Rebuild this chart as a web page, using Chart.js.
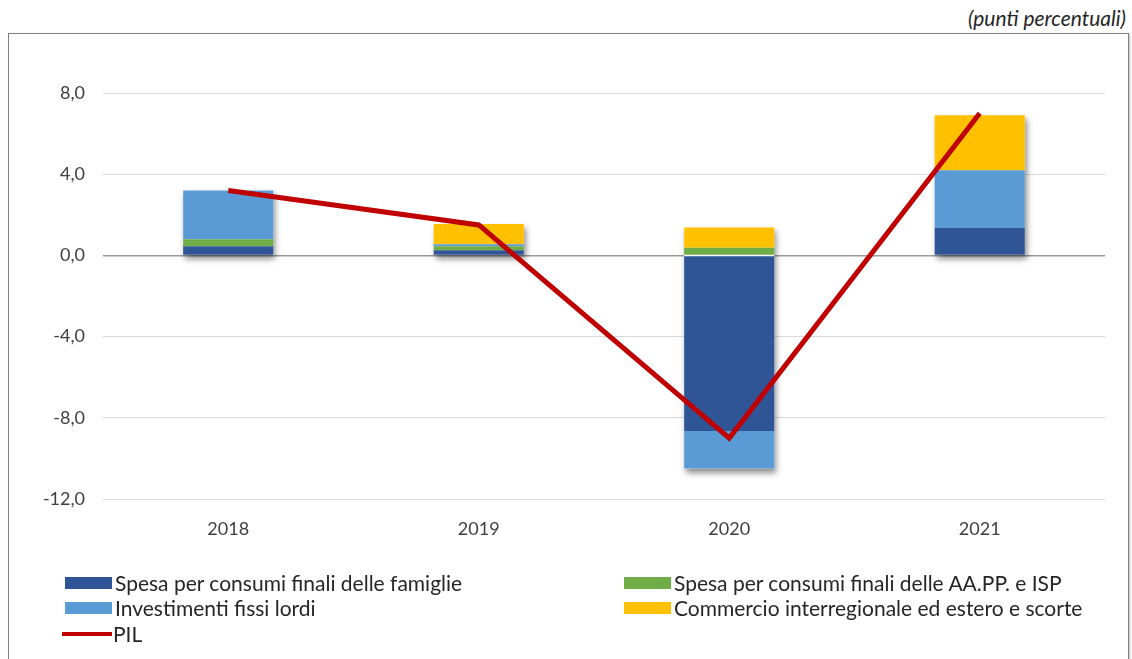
<!DOCTYPE html>
<html>
<head>
<meta charset="utf-8">
<script src="https://cdn.jsdelivr.net/npm/chart.js@4/dist/chart.umd.min.js"></script>
<style>
  body { margin: 0; background: #fff; font-family: Lato, "Open Sans", sans-serif; }
  #wrap { position: relative; width: 1132px; height: 659px; overflow: hidden; }
  #box { position: absolute; left: 8px; top: 33px; width: 1119px; height: 640px; border: 1px solid #808080; box-shadow: 1px 1px 2px rgba(0,0,0,0.25); }
  #unit { position: absolute; right: 6px; top: 5px; font-style: italic; font-size: 21px; color: #262626; }
  canvas { position: absolute; left: 0; top: 0; }
  .leg { position: absolute; font-size: 21px; color: #262626; white-space: nowrap; line-height: 24px; }
  .sw { position: absolute; }
</style>
</head>
<body>
<div id="wrap">
  <div id="box"></div>
  <div id="unit">(punti percentuali)</div>
  <canvas id="c" width="1132" height="659"></canvas>
  <div id="legend"></div>
</div>
<script>
const anni = ["2018", "2019", "2020", "2021"];
const famiglie = [0.45, 0.25, -8.65, 1.35];
const aaPP = [0.35, 0.2, 0.38, 0];
const investimenti = [2.4, 0.1, -1.85, 2.85];
const commercio = [0, 1.0, 1.0, 2.7];
const pil = [3.2, 1.5, -9.0, 7.0];

const nomi = [
  "Spesa per consumi finali delle famiglie",
  "Spesa per consumi finali delle AA.PP. e ISP",
  "Investimenti fissi lordi",
  "Commercio interregionale ed estero e scorte",
  "PIL"
];
const colori = ["#2f5597", "#70ad47", "#5b9bd5", "#ffc000", "#c00000"];

// ombra sotto le colonne, calcolata dalle barre disegnate dalla libreria
const ombra = {
  id: "ombra",
  beforeDatasetsDraw(chart) {
    const ctx = chart.ctx;
    const metas = chart.getSortedVisibleDatasetMetas().filter(m => m.type === "bar");
    anni.forEach((_, i) => {
      let top = Infinity, bottom = -Infinity, left = 0, right = 0;
      metas.forEach(m => {
        const el = m.data[i];
        if (!el || el.base === el.y) return;
        top = Math.min(top, el.y, el.base);
        bottom = Math.max(bottom, el.y, el.base);
        left = el.x - el.width / 2;
        right = el.x + el.width / 2;
      });
      if (top === Infinity) return;
      ctx.save();
      ctx.shadowColor = "rgba(0,0,0,0.45)";
      ctx.shadowBlur = 6;
      ctx.shadowOffsetX = 2;
      ctx.shadowOffsetY = 4;
      ctx.fillStyle = "#fff";
      ctx.fillRect(left, top, right - left, bottom - top);
      ctx.restore();
    });
  }
};

const barDs = (label, data, color) => ({
  type: "bar", label, data, backgroundColor: color,
  stack: "comp", order: 1,
  categoryPercentage: 1, barPercentage: 0.36
});

new Chart(document.getElementById("c"), {
  data: {
    labels: anni,
    datasets: [
      barDs(nomi[0], famiglie, colori[0]),
      barDs(nomi[1], aaPP, colori[1]),
      barDs(nomi[2], investimenti, colori[2]),
      barDs(nomi[3], commercio, colori[3]),
      {
        type: "line", label: nomi[4], data: pil, stack: "pil", order: 0,
        borderColor: colori[4], borderWidth: 5, pointRadius: 0, tension: 0,
        borderCapStyle: "butt", borderJoinStyle: "miter"
      }
    ]
  },
  options: {
    responsive: false,
    animation: false,
    layout: { padding: { left: 3, right: 27, top: 93, bottom: 120 } },
    plugins: { legend: { display: false }, tooltip: { enabled: false } },
    scales: {
      x: {
        stacked: true,
        grid: { display: false },
        border: { display: false },
        ticks: { color: "#404040", font: { family: "Lato", size: 18 }, padding: 11 },
        afterFit(s) { s.height = 40; }
      },
      y: {
        stacked: true,
        min: -12, max: 8,
        border: { display: false },
        grid: {
          drawTicks: false,
          color: c => c.tick && c.tick.value === 0 ? "#9a9a9a" : "#d9d9d9",
          lineWidth: c => c.tick && c.tick.value === 0 ? 1.5 : 1
        },
        ticks: {
          stepSize: 4, padding: 18, color: "#404040",
          font: { family: "Lato", size: 18 },
          callback: v => v.toFixed(1).replace(".", ",")
        },
        afterFit(s) { s.width = 100; }
      }
    }
  },
  plugins: [ombra]
});

// legenda su due colonne
const pos = [
  [65, 583], [624, 583],
  [65, 608], [624, 608],
  [62, 634]
];
const leg = document.getElementById("legend");
nomi.forEach((n, i) => {
  const [x, y] = pos[i];
  const sw = document.createElement("div");
  sw.className = "sw";
  sw.style.background = colori[i];
  if (i === 4) {
    sw.style.left = x + "px"; sw.style.top = (y - 2) + "px";
    sw.style.width = "50px"; sw.style.height = "4px";
  } else {
    sw.style.left = x + "px"; sw.style.top = (y - 6) + "px";
    sw.style.width = "47px"; sw.style.height = "12px";
  }
  leg.appendChild(sw);
  const t = document.createElement("div");
  t.className = "leg";
  t.textContent = n;
  t.style.left = (i === 4 ? x + 51 : x + 50) + "px";
  t.style.top = (y - 12) + "px";
  leg.appendChild(t);
});
</script>
</body>
</html>
